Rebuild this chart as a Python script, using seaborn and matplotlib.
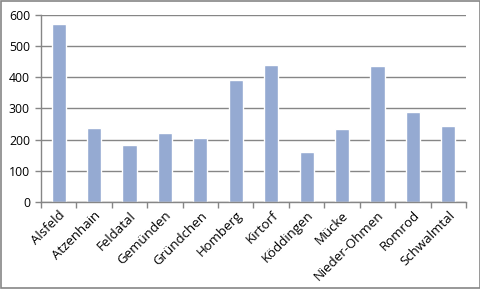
import matplotlib
matplotlib.use("Agg")
import matplotlib.pyplot as plt
import seaborn as sns
import numpy as np
import pandas as pd
from matplotlib.patches import Rectangle
from matplotlib.ticker import FixedLocator

categories = ["Alsfeld", "Atzenhain", "Feldatal", "Gemünden", "Gründchen", "Homberg",
              "Kirtorf", "Köddingen", "Mücke", "Nieder-Ohmen", "Romrod", "Schwalmtal"]
values = [570, 237, 182, 221, 205, 390, 438, 160, 234, 435, 288, 243]
yticks = [0, 100, 200, 300, 400, 500, 600]

sns.set_theme(style="white")
plt.rcParams['font.family'] = ['Open Sans', 'DejaVu Sans']

df = pd.DataFrame({"cat": categories, "val": values})
fig = plt.figure(figsize=(4.81, 2.89), dpi=100)
ax = fig.add_axes([41/481, 1-202/289, 425/481, (202-14.7)/289])
sns.barplot(data=df, x="cat", y="val", color="#95AAD2", saturation=1, width=0.4, ax=ax)

ax.set_xlim(-0.5, len(categories)-0.5)
ax.set_ylim(0, 600)
ax.set_yticks(yticks)
ax.yaxis.grid(True, color="#868686", linewidth=1)
ax.set_axisbelow(True)
ax.set_xlabel("")
ax.set_ylabel("")
for s in ["top", "right"]:
    ax.spines[s].set_visible(False)
for s in ["left", "bottom"]:
    ax.spines[s].set_color("#868686")
    ax.spines[s].set_linewidth(1)
ax.xaxis.set_minor_locator(FixedLocator(np.arange(-0.5, len(categories), 1)))
ax.tick_params(axis="x", which="major", length=0, labelsize=9.5, pad=5, colors="black")
ax.tick_params(axis="x", which="minor", length=4, width=1, color="#868686", bottom=True)
ax.tick_params(axis="y", which="major", length=4, width=1, color="#868686", left=True,
               labelsize=8.8, pad=4, labelcolor="black")
plt.setp(ax.get_xticklabels(), rotation=45, ha="right", rotation_mode="anchor")

fig.patches.append(Rectangle((1/481, 1/289), 479/481, 287/289, transform=fig.transFigure,
                             fill=False, edgecolor="#868686", linewidth=1.2))
fig.savefig("out.png", dpi=100)
